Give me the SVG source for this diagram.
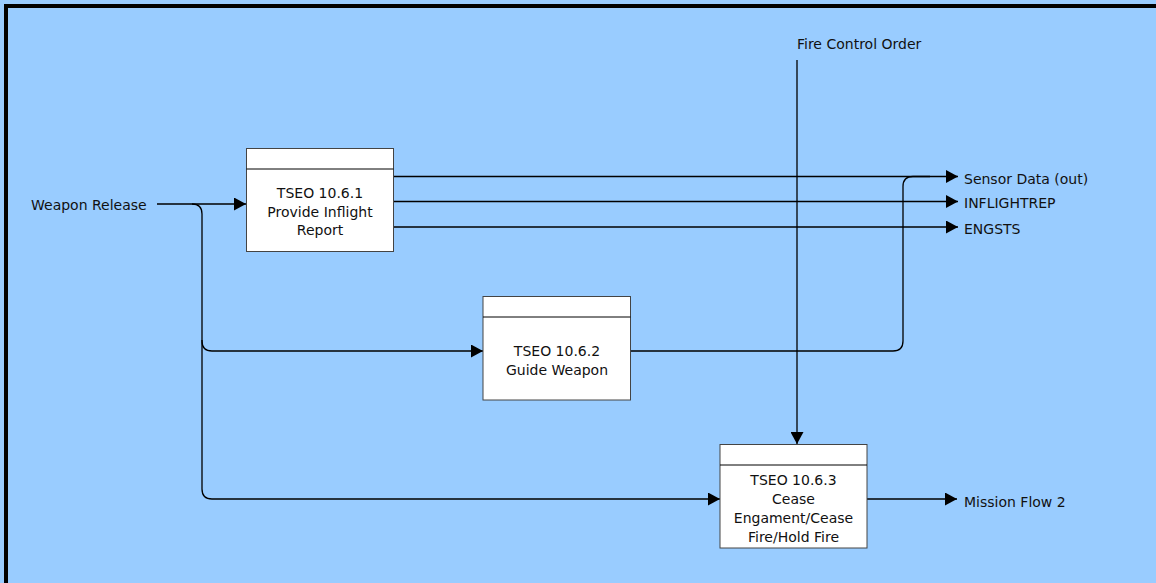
<svg xmlns="http://www.w3.org/2000/svg" width="1156" height="583" viewBox="0 0 1156 583">
<style>
text{font-family:"DejaVu Sans",Verdana,sans-serif;font-size:14px;fill:#111}
.c{text-anchor:middle}
.box{fill:#fff;stroke:#444;stroke-width:1}
.hdr{stroke:#000;stroke-width:1}
.wire{fill:none;stroke:#000;stroke-width:1.3}
</style>
<defs>
<marker id="arr" markerUnits="userSpaceOnUse" markerWidth="13" markerHeight="13" refX="12" refY="6.5" orient="auto">
<path d="M0,0 L12,6.5 L0,13 Z" fill="#000"/>
</marker>
</defs>
<rect x="0" y="0" width="1156" height="583" fill="#99CCFF"/>
<path d="M6,583 V6 H1156" fill="none" stroke="#000" stroke-width="4"/>
<g id="connectors">
<path class="wire" d="M157,204 H246" marker-end="url(#arr)"/>
<path class="wire" d="M192,204 Q202,204 202,214 V341 Q202,351 212,351 H483" marker-end="url(#arr)"/>
<path class="wire" d="M202,340 V489 Q202,499 212,499 H720" marker-end="url(#arr)"/>
<path class="wire" d="M394,176.5 H958" marker-end="url(#arr)"/>
<path class="wire" d="M394,201.5 H958" marker-end="url(#arr)"/>
<path class="wire" d="M394,227 H958" marker-end="url(#arr)"/>
<path class="wire" d="M631,351 H893 Q903,351 903,341 V186.5 Q903,176.5 913,176.5 H930"/>
<path class="wire" d="M797,60 V444" marker-end="url(#arr)"/>
<path class="wire" d="M867,499 H957" marker-end="url(#arr)"/>
</g>
<g id="label-weapon-release"><text x="31" y="210">Weapon Release</text></g>
<g id="label-fire-control"><text x="797" y="49">Fire Control Order</text></g>
<g id="label-sensor"><text x="964" y="184">Sensor Data (out)</text></g>
<g id="label-inflightrep"><text x="964" y="208">INFLIGHTREP</text></g>
<g id="label-engsts"><text x="964" y="234">ENGSTS</text></g>
<g id="label-mission"><text x="964" y="507">Mission Flow 2</text></g>
<g id="node-1061">
<rect class="box" x="246.5" y="148.5" width="147" height="103"/>
<line class="hdr" x1="246.5" y1="169" x2="393.5" y2="169"/>
<text class="c" x="320" y="198">TSEO 10.6.1</text>
<text class="c" x="320" y="217">Provide Inflight</text>
<text class="c" x="320" y="235">Report</text>
</g>
<g id="node-1062">
<rect class="box" x="483" y="296.5" width="147.5" height="103.5"/>
<line class="hdr" x1="483" y1="317" x2="630.5" y2="317"/>
<text class="c" x="557" y="356">TSEO 10.6.2</text>
<text class="c" x="557" y="375">Guide Weapon</text>
</g>
<g id="node-1063">
<rect class="box" x="720" y="444.5" width="147" height="103.5"/>
<line class="hdr" x1="720" y1="465" x2="867" y2="465"/>
<text class="c" x="793.5" y="485">TSEO 10.6.3</text>
<text class="c" x="793.5" y="504">Cease</text>
<text class="c" x="793.5" y="523">Engament/Cease</text>
<text class="c" x="793.5" y="542">Fire/Hold Fire</text>
</g>
</svg>
